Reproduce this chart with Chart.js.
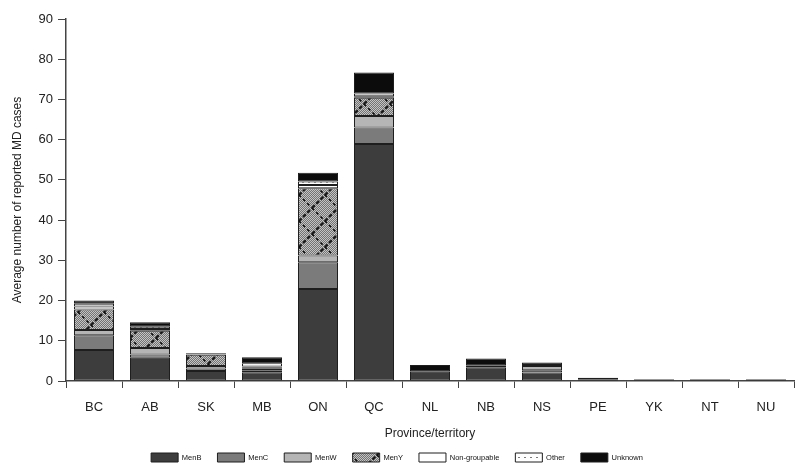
<!DOCTYPE html>
<html>
<head>
<meta charset="utf-8">
<script src="https://cdn.jsdelivr.net/npm/chart.js@4/dist/chart.umd.min.js"></script>
<style>
  html, body { margin: 0; padding: 0; background: #fff; }
  #wrap { width: 801px; height: 464px; position: relative; }
</style>
</head>
<body>
<div id="wrap"><canvas id="chart"></canvas></div>
<script>
// Average number of reported MD cases by province/territory, split by serogroup
const provinces   = ['BC', 'AB', 'SK', 'MB', 'ON', 'QC', 'NL', 'NB', 'NS', 'PE', 'YK', 'NT', 'NU'];
const menB        = [7.7, 5.8, 2.5, 2.2, 22.9, 58.9, 2.3, 3.4, 2.1, 0.3, 0.35, 0.35, 0.35];
const menC        = [3.7, 0.8, 0.6, 0.5, 6.6, 4.1, 0, 0.4, 0.6, 0, 0, 0, 0];
const menW        = [1.3, 1.6, 0.6, 0.5, 1.7, 2.9, 0, 0, 1.0, 0, 0, 0, 0];
const menY        = [5.1, 4.3, 2.8, 0.1, 16.7, 4.5, 0, 0, 0.3, 0, 0, 0, 0];
const nonGroup    = [0.7, 0.4, 0.1, 0.3, 0.8, 0.4, 0, 0, 0, 0, 0, 0, 0];
const otherGroup  = [0.7, 0.6, 0.1, 0.8, 0.9, 0.7, 0, 0, 0, 0, 0, 0, 0];
const unknownGrp  = [0.8, 1.1, 0.2, 1.5, 2.2, 5.2, 1.7, 1.8, 0.6, 0.5, 0.15, 0.15, 0.15];
const yTicks      = [0, 10, 20, 30, 40, 50, 60, 70, 80, 90];

const FONT = "'Liberation Sans', Arial, Helvetica, sans-serif";

// Fine grey texture crossed by dashed black diagonals (MenY fill)
function menYPattern() {
  const s = 26;
  const cv = document.createElement('canvas');
  cv.width = s; cv.height = s;
  const g = cv.getContext('2d');
  for (let y = 0; y < s; y++) {
    for (let x = 0; x < s; x++) {
      g.fillStyle = ((x + y) % 2 === 0) ? '#c4c4c4' : '#737373';
      g.fillRect(x, y, 1, 1);
    }
  }
  g.strokeStyle = '#111';
  g.lineWidth = 2;
  g.setLineDash([4, 2]);
  g.beginPath();
  for (const o of [-s, 0, s]) {
    g.moveTo(o, s); g.lineTo(o + s, 0);
  }
  g.stroke();
  g.beginPath();
  g.setLineDash([3, 3]);
  g.lineWidth = 1.6;
  for (const o of [-s, 0, s]) {
    g.moveTo(o, 0); g.lineTo(o + s, s);
  }
  g.stroke();
  return g.createPattern(cv, 'repeat');
}

// White fill with small grey dots (Other)
function dotPattern() {
  const cv = document.createElement('canvas');
  cv.width = 6; cv.height = 5;
  const g = cv.getContext('2d');
  g.fillStyle = '#ffffff';
  g.fillRect(0, 0, 6, 5);
  g.fillStyle = '#7a7a7a';
  g.fillRect(2, 2, 2, 1);
  return g.createPattern(cv, 'repeat');
}

const clean = arr => arr.map(v => (v === 0 ? null : v));

const series = [
  { label: 'MenB',          data: menB,       color: '#3d3d3d' },
  { label: 'MenC',          data: menC,       color: '#7b7b7b' },
  { label: 'MenW',          data: menW,       color: '#b5b5b5' },
  { label: 'MenY',          data: menY,       color: menYPattern() },
  { label: 'Non-groupable', data: nonGroup,   color: '#ffffff' },
  { label: 'Other',         data: otherGroup, color: dotPattern() },
  { label: 'Unknown',       data: unknownGrp, color: '#0c0c0c' }
];

const datasets = series.map(s => ({
  label: s.label,
  data: clean(s.data),
  backgroundColor: s.color,
  borderColor: '#1e1e1e',
  borderWidth: 1,
  borderSkipped: false,
  barPercentage: 0.715,
  categoryPercentage: 1.0
}));

new Chart(document.getElementById('chart'), {
  type: 'bar',
  data: { labels: provinces, datasets },
  options: {
    responsive: true,
    maintainAspectRatio: false,
    animation: false,
    layout: { padding: { top: 19, right: 7, left: 0, bottom: -8 } },
    plugins: {
      legend: {
        position: 'bottom',
        labels: {
          boxWidth: 27,
          boxHeight: 9,
          padding: 16,
          color: '#111',
          font: { family: FONT, size: 7.5 }
        }
      },
      tooltip: { enabled: false }
    },
    scales: {
      x: {
        stacked: true,
        grid: { offset: true, drawOnChartArea: false, drawTicks: true, tickLength: 7, color: '#444', lineWidth: 1 },
        border: { color: '#444', width: 1.5 },
        ticks: { color: '#222', font: { family: FONT, size: 13 }, padding: 12 },
        title: {
          display: true,
          text: 'Province/territory',
          color: '#222',
          font: { family: FONT, size: 12, lineHeight: 1 },
          padding: { top: 0, bottom: -3 }
        },
        afterFit(scale) { scale.height = 56; }
      },
      y: {
        stacked: true,
        min: 0,
        max: 90,
        afterBuildTicks(scale) { scale.ticks = yTicks.map(v => ({ value: v })); },
        grid: { drawOnChartArea: false, drawTicks: true, tickLength: 8, color: '#444', lineWidth: 1 },
        border: { color: '#444', width: 1.5 },
        ticks: { color: '#222', font: { family: FONT, size: 13 }, padding: 5 },
        title: {
          display: true,
          text: 'Average number of reported MD cases',
          color: '#222',
          font: { family: FONT, size: 12, lineHeight: 1 },
          padding: { top: 12, bottom: 0 }
        },
        afterFit(scale) { scale.width = 66; }
      }
    }
  }
});
</script>
</body>
</html>
